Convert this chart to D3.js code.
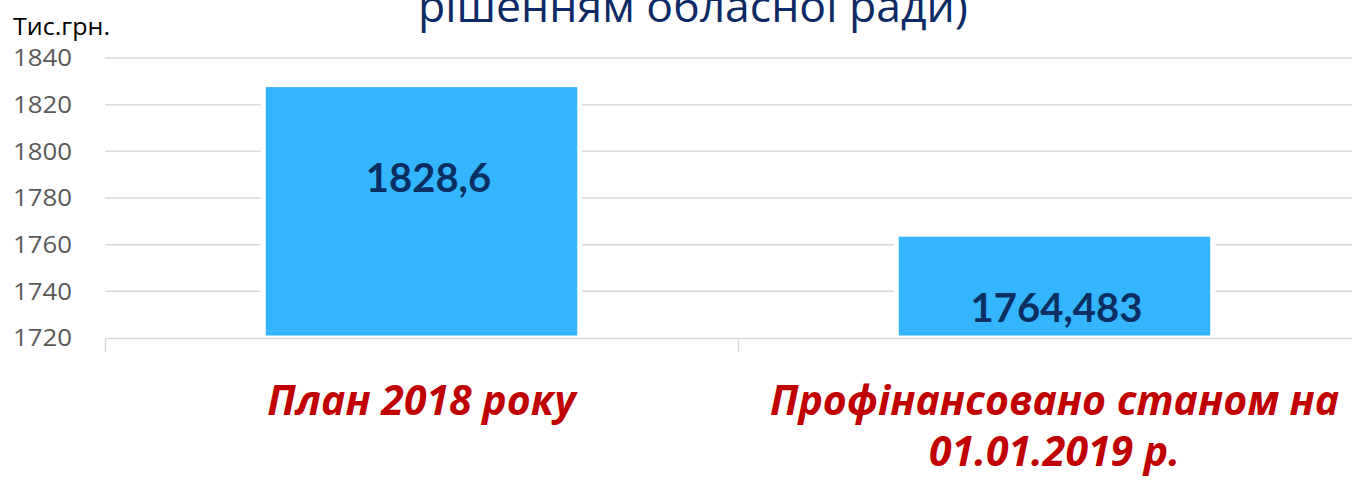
<!DOCTYPE html>
<html>
<head>
<meta charset="utf-8">
<script src="https://cdn.jsdelivr.net/npm/d3@7"></script>
<style>
  html, body { margin: 0; padding: 0; background: #fff; overflow: hidden; }
  svg { display: block; }
</style>
</head>
<body>
<div id="chart"></div>
<script>
/*data*/
const categories = [['План 2018 року'], ['Профінансовано станом на', '01.01.2019 р.']];
const values = [1828.6, 1764.483];
const valueLabels = ['1828,6', '1764,483'];
const yTicks = [1720, 1740, 1760, 1780, 1800, 1820, 1840];
const unitLabel = 'Тис.грн.';
const titleTail = 'рішенням обласної ради)';

/*layout*/
const
  width = 1352,
  height = 480,
  plotLeft = 105,
  plotRight = 1371,   // last category runs off the page, like the slide
  plotTop = 58,
  plotBottom = 338,
  labelDrop = [107, 88], // hand placed data labels (px below bar top)
  labelShift = [7, 2]
;

const svg = d3.select('#chart')
  .append('svg')
  .attr('width', width)
  .attr('height', height);

const x = d3.scaleBand()
  .domain(d3.range(categories.length))
  .range([plotLeft, plotRight])
  .paddingInner(0.5)
  .paddingOuter(0.25);

const y = d3.scaleLinear()
  .domain([yTicks[0], yTicks[yTicks.length - 1]])
  .range([plotBottom, plotTop]);

/*title (cut at top, as on the slide)*/
svg.append('text')
  .attr('x', 693)
  .attr('y', 22)
  .attr('text-anchor', 'middle')
  .attr('fill', '#0b2a66')
  .style('font-family', '"Open Sans", sans-serif')
  .style('font-size', '44px')
  .attr('textLength', 550)
  .attr('lengthAdjust', 'spacingAndGlyphs')
  .text(titleTail);

svg.append('text')
  .attr('x', 13)
  .attr('y', 35)
  .attr('fill', '#000')
  .style('font-family', '"Open Sans", sans-serif')
  .style('font-size', '24px')
  .attr('textLength', 97)
  .attr('lengthAdjust', 'spacingAndGlyphs')
  .text(unitLabel);

/*grid*/
svg.append('g')
  .selectAll('line')
  .data(yTicks.slice(1))
  .join('line')
  .attr('x1', plotLeft)
  .attr('x2', width)
  .attr('y1', d => y(d))
  .attr('y2', d => y(d))
  .attr('stroke', '#d9d9d9')
  .attr('stroke-width', 1.5);

/*y labels*/
svg.append('g')
  .selectAll('text')
  .data(yTicks)
  .join('text')
  .attr('x', 72)
  .attr('y', d => y(d))
  .attr('dy', '0.35em')
  .attr('text-anchor', 'end')
  .attr('fill', '#595959')
  .style('font-family', '"Open Sans", sans-serif')
  .style('font-size', '24px')
  .attr('textLength', 59)
  .attr('lengthAdjust', 'spacingAndGlyphs')
  .text(d => d);

/*bars*/
svg.append('g')
  .selectAll('rect')
  .data(values)
  .join('rect')
  .attr('x', (d, i) => x(i))
  .attr('y', d => y(d))
  .attr('width', x.bandwidth())
  .attr('height', d => y(yTicks[0]) - y(d))
  .attr('fill', '#33b5ff')
  .attr('stroke', '#fff')
  .attr('stroke-width', 5);

/*x axis*/
const xAxis = d3.axisBottom(d3.scaleLinear().domain([0, categories.length]).range([plotLeft, plotRight]))
  .tickValues(d3.range(categories.length + 1))
  .tickSize(14)
  .tickSizeOuter(0)
  .tickFormat('');

svg.append('g')
  .attr('transform', `translate(0,${plotBottom})`)
  .call(xAxis)
  .call(g => g.selectAll('path, line').attr('stroke', '#d9d9d9').attr('stroke-width', 1.5));

/*value labels*/
svg.append('g')
  .selectAll('text')
  .data(values)
  .join('text')
  .attr('x', (d, i) => x(i) + x.bandwidth() / 2 + labelShift[i])
  .attr('y', (d, i) => y(d) + labelDrop[i])
  .attr('text-anchor', 'middle')
  .attr('fill', '#0b2f61')
  .style('font-family', 'Lato, sans-serif')
  .style('font-weight', 'bold')
  .style('font-size', '40px')
  .text((d, i) => valueLabels[i]);

/*category labels*/
const cat = svg.append('g')
  .selectAll('text')
  .data(categories)
  .join('text')
  .attr('x', (d, i) => x(i) + x.bandwidth() / 2)
  .attr('y', 415)
  .attr('text-anchor', 'middle')
  .attr('fill', '#c00000')
  .style('font-family', '"Open Sans", sans-serif')
  .style('font-weight', 'bold')
  .style('font-style', 'italic')
  .style('font-size', '41px');

cat.selectAll('tspan')
  .data(d => d)
  .join('tspan')
  .attr('x', function(){ return d3.select(this.parentNode).attr('x'); })
  .attr('dy', (d, i) => i ? 51 : 0)
  .text(d => d);
</script>
</body>
</html>
